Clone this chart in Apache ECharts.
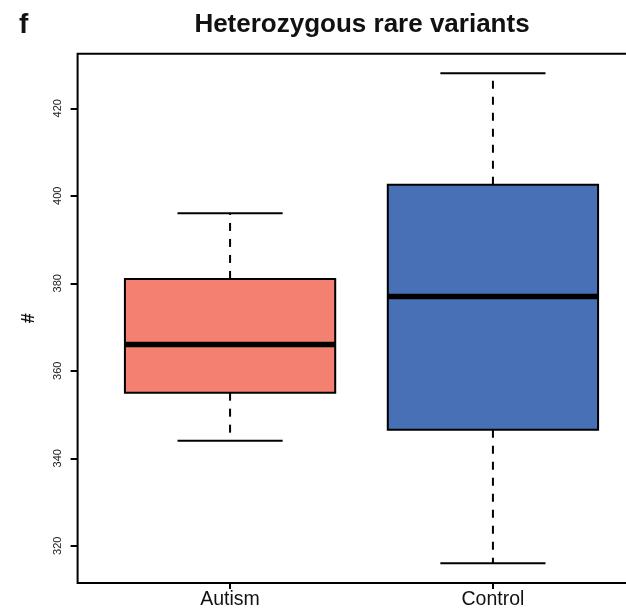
<!DOCTYPE html>
<html>
<head>
<meta charset="utf-8">
<script src="https://cdn.jsdelivr.net/npm/echarts@6/dist/echarts.min.js"></script>
<style>
  html, body { margin: 0; padding: 0; background: #fff; }
  #chart { width: 626px; height: 612px; }
</style>
</head>
<body>
<div id="chart"></div>
<script>
// Groups and their five-number summaries
const categories = ['Autism', 'Control'];
const whiskerLow = [344, 316];
const q1 = [355, 346.5];
const median = [366, 377];
const q3 = [381, 402.5];
const whiskerHigh = [396, 428];
const boxColors = ['#F38071', '#4870B6'];
const yTicks = [320, 340, 360, 380, 400, 420];

// Axis ranges padded by 4% around the data, like R's default
const yLo = Math.min(...whiskerLow), yHi = Math.max(...whiskerHigh);
const yPad = (yHi - yLo) * 0.04;
const xMin = 0.5 - 0.08, xMax = categories.length + 0.5 + 0.08;

const boxWidth = 0.8;   // in x units
const capWidth = 0.4;

const data = categories.map((c, i) => [i + 1, whiskerLow[i], q1[i], median[i], q3[i], whiskerHigh[i], i]);

function renderBox(params, api) {
  const x = api.value(0);
  const lo = api.value(1), a = api.value(2), m = api.value(3), b = api.value(4), hi = api.value(5);
  const idx = api.value(6);
  const pL = api.coord([x - boxWidth / 2, a]);
  const pR = api.coord([x + boxWidth / 2, b]);
  const pM = api.coord([x, m]);
  const pLo = api.coord([x, lo]);
  const pHi = api.coord([x, hi]);
  const pQ1 = api.coord([x, a]);
  const pQ3 = api.coord([x, b]);
  const capL = api.coord([x - capWidth / 2, lo])[0];
  const capR = api.coord([x + capWidth / 2, lo])[0];
  const black = '#000';
  return {
    type: 'group',
    children: [
      { type: 'line', shape: { x1: pQ3[0], y1: pQ3[1], x2: pHi[0], y2: pHi[1] },
        style: { stroke: black, lineWidth: 2, lineDash: [8, 8] } },
      { type: 'line', shape: { x1: pQ1[0], y1: pQ1[1], x2: pLo[0], y2: pLo[1] },
        style: { stroke: black, lineWidth: 2, lineDash: [8, 8] } },
      { type: 'line', shape: { x1: capL, y1: pHi[1], x2: capR, y2: pHi[1] },
        style: { stroke: black, lineWidth: 2 } },
      { type: 'line', shape: { x1: capL, y1: pLo[1], x2: capR, y2: pLo[1] },
        style: { stroke: black, lineWidth: 2 } },
      { type: 'rect', shape: { x: pL[0], y: pR[1], width: pR[0] - pL[0], height: pL[1] - pR[1] },
        style: { fill: boxColors[idx], stroke: black, lineWidth: 2 } },
      { type: 'line', shape: { x1: pL[0], y1: pM[1], x2: pR[0], y2: pM[1] },
        style: { stroke: black, lineWidth: 5.5 } }
    ]
  };
}

const chart = echarts.init(document.getElementById('chart'), null, { renderer: 'canvas' });
chart.setOption({
  animation: false,
  backgroundColor: '#fff',
  title: [
    { text: 'f', left: 14, top: 6,
      textStyle: { fontFamily: 'Liberation Sans, Arial', fontSize: 28, fontWeight: 'bold', color: '#111' } },
    { text: 'Heterozygous rare variants', left: 357, top: 7, textAlign: 'center',
      textStyle: { fontFamily: 'Liberation Sans, Arial', fontSize: 26, fontWeight: 'bold', color: '#111' } }
  ],
  grid: {
    left: 77.6, top: 53.7, right: -19.4, bottom: 29.1,
    outerBoundsMode: 'none',
    show: true, borderColor: '#000', borderWidth: 2, backgroundColor: 'transparent'
  },
  xAxis: {
    type: 'value', min: xMin, max: xMax,
    splitLine: { show: false },
    axisLine: { show: false },
    axisTick: { show: true, length: 6, lineStyle: { color: '#000', width: 2 },
      customValues: categories.map((c, i) => i + 1) },
    axisLabel: {
      customValues: categories.map((c, i) => i + 1),
      formatter: v => categories[Math.round(v) - 1],
      fontFamily: 'Liberation Sans, Arial', fontSize: 19.5, color: '#111', margin: 7
    }
  },
  yAxis: {
    type: 'value', min: yLo - yPad, max: yHi + yPad,
    name: '#', nameLocation: 'middle', nameRotate: 90, nameGap: 40,
    nameTextStyle: { fontFamily: 'Liberation Sans, Arial', fontSize: 18, fontWeight: 'bold', color: '#111' },
    splitLine: { show: false },
    axisLine: { show: false },
    axisTick: { show: true, length: 7, lineStyle: { color: '#000', width: 2 }, customValues: yTicks },
    axisLabel: {
      customValues: yTicks, rotate: 90, margin: 14,
      fontFamily: 'Liberation Sans, Arial', fontSize: 11, color: '#222'
    }
  },
  series: [{
    type: 'custom',
    renderItem: renderBox,
    encode: { x: 0, y: [1, 2, 3, 4, 5] },
    data: data,
    clip: false
  }]
});
</script>
</body>
</html>
